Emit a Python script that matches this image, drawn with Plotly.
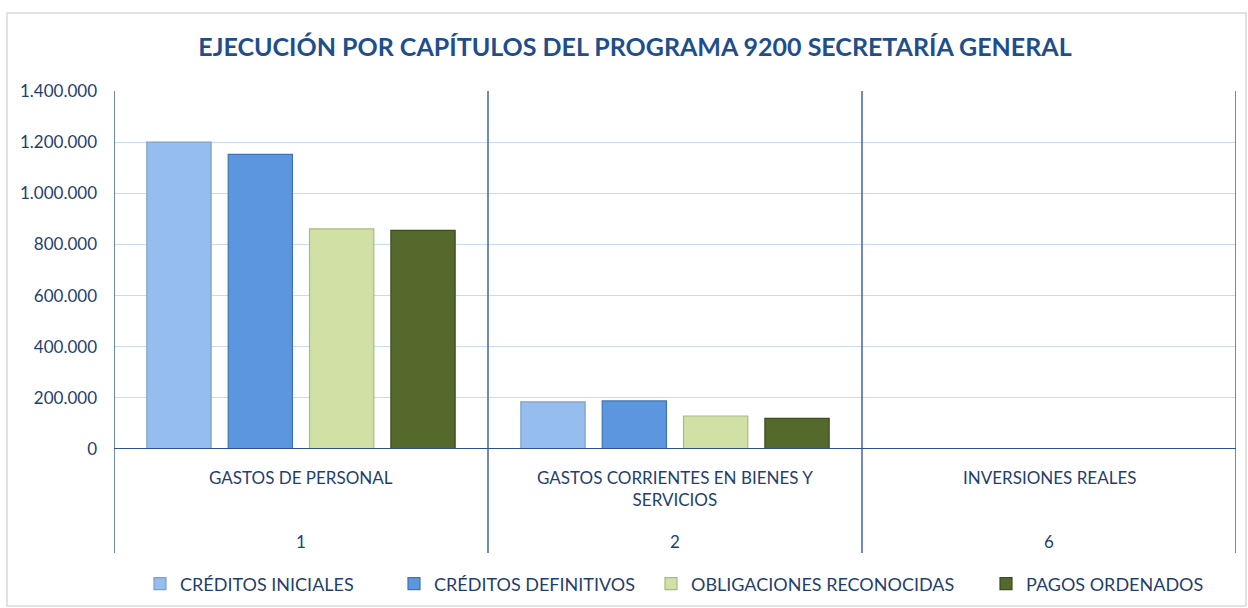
import plotly.graph_objects as go

categories = ["GASTOS DE PERSONAL", "GASTOS CORRIENTES EN BIENES Y<br>SERVICIOS", "INVERSIONES REALES"]
codes = ["1", "2", "6"]
series_names = ["CRÉDITOS INICIALES", "CRÉDITOS DEFINITIVOS", "OBLIGACIONES RECONOCIDAS", "PAGOS ORDENADOS"]
creditos_iniciales = [1200000, 184000, 0]
creditos_definitivos = [1152000, 188000, 0]
obligaciones_reconocidas = [861000, 129000, 0]
pagos_ordenados = [855000, 120000, 0]
yticks = [0, 200000, 400000, 600000, 800000, 1000000, 1200000, 1400000]

values = [creditos_iniciales, creditos_definitivos, obligaciones_reconocidas, pagos_ordenados]
fills = ["#95BDEE", "#5B96DE", "#D1E1A5", "#55692C"]
edges = ["#7C9FCB", "#3F74B8", "#A9B984", "#3D4D1E"]

W, H = 1248, 608
L, R, T, B = 114, 12, 91, 159
pw, ph = W - L - R, H - T - B

def px_y(y):
    return (H - B - y) / ph

def px_x(x):
    return (x - L) / pw

legend_ids = ["legend", "legend2", "legend3", "legend4"]
legend_text_x = [182, 436, 693, 1028]

x_idx = list(range(len(categories)))
fig = go.Figure()
for name, vals, f, e, lg in zip(series_names, values, fills, edges, legend_ids):
    fig.add_trace(go.Bar(x=x_idx, y=vals, name=name, legend=lg,
                         marker=dict(color=f, line=dict(color=e, width=1.2))))

txt = "#1F3F6E"
font = "Lato"
shapes = []
shapes.append(dict(type="rect", xref="paper", yref="paper",
                   x0=px_x(7), x1=px_x(1246), y0=px_y(13), y1=px_y(606),
                   line=dict(color="#D9D9D9", width=1.5), fillcolor="rgba(0,0,0,0)", layer="below"))
for xv in [-0.5, 0.5, 1.5, 2.5]:
    shapes.append(dict(type="line", xref="x", yref="paper", x0=xv, x1=xv,
                       y0=1, y1=px_y(553), line=dict(color="#3E64A0", width=1.5)))
shapes.append(dict(type="line", xref="paper", yref="y", x0=0, x1=1, y0=0, y1=0,
                   line=dict(color="#2F528F", width=2)))

annotations = []
for i, (c, code) in enumerate(zip(categories, codes)):
    annotations.append(dict(x=i, y=px_y(465), xref="x", yref="paper", text=c,
                            showarrow=False, yanchor="top", align="center",
                            font=dict(family=font, size=17, color=txt)))
    annotations.append(dict(x=i, y=px_y(541), xref="x", yref="paper", text=code,
                            showarrow=False, yanchor="middle",
                            font=dict(family=font, size=17, color=txt)))

legend_common = dict(orientation="h", yanchor="middle", xanchor="left",
                     font=dict(family=font, size=18, color=txt), itemwidth=30,
                     bgcolor="rgba(0,0,0,0)")
legend_layout = {}
for lg, tx in zip(legend_ids, legend_text_x):
    legend_layout[lg] = dict(legend_common, x=px_x(tx - 42), y=px_y(584))

fig.update_layout(
    width=W, height=H,
    margin=dict(l=L, r=R, t=T, b=B, autoexpand=False),
    paper_bgcolor="white", plot_bgcolor="white",
    separators=",.",
    title=dict(text="<b>EJECUCIÓN POR CAPÍTULOS DEL PROGRAMA 9200 SECRETARÍA GENERAL</b>",
               x=635 / W, xanchor="center", y=1 - 47 / H, yanchor="middle",
               font=dict(family=font, size=25, color="#1F4E8C")),
    barmode="group", bargap=0.13, bargroupgap=0.21,
    xaxis=dict(range=[-0.5, 2.5], showticklabels=False, showgrid=False, zeroline=False,
               showline=False, ticks="", fixedrange=True),
    yaxis=dict(range=[0, 1400000], tickvals=yticks, tickformat=",.0f",
               showgrid=True, gridcolor="#C9DBF1", gridwidth=1, zeroline=False,
               showline=False, ticks="", ticklen=0, ticklabelstandoff=16,
               tickfont=dict(family=font, size=17, color=txt)),
    shapes=shapes, annotations=annotations,
    showlegend=True,
    **legend_layout,
)

fig.write_html("out.html", config={"displayModeBar": False},
               post_script="document.body.style.margin='0';")
